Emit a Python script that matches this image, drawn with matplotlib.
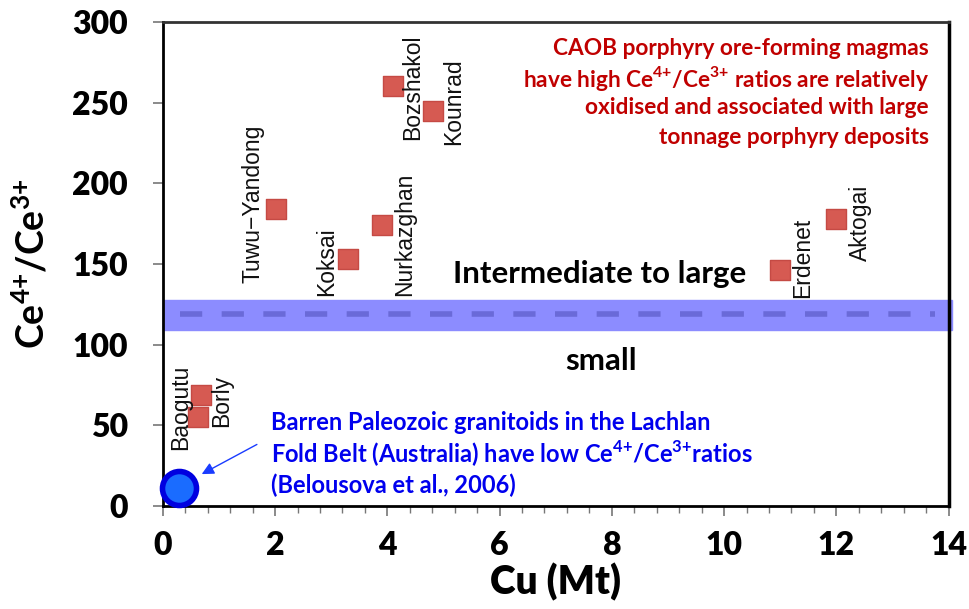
import matplotlib
matplotlib.use("Agg")
import matplotlib.pyplot as plt
from matplotlib.ticker import MultipleLocator

plt.rcParams['font.family'] = ['Lato', 'DejaVu Sans']
plt.rcParams['mathtext.fontset'] = 'custom'
plt.rcParams['mathtext.rm'] = 'Lato'
plt.rcParams['mathtext.bf'] = 'Lato:bold'

# porphyry deposits (Cu in Mt, Ce4+/Ce3+)
names = ['Baogutu', 'Borly', 'Tuwu\u2212Yandong', 'Koksai', 'Nurkazghan',
         'Bozshakol', 'Kounrad', 'Erdenet', 'Aktogai']
cu = [0.62, 0.68, 2.02, 3.3, 3.9, 4.1, 4.82, 11.0, 12.0]
ratio = [55, 69, 184, 153, 174, 260, 245, 146, 178]
# label anchor (bottom of rotated text)
lab_x = [0.31, 1.04, 1.6, 2.92, 4.3, 4.45, 5.18, 11.4, 12.43]
lab_y = [35, 49, 138, 130, 130, 227, 224, 129, 152]

# Lachlan Fold Belt barren granitoids
lfb_cu = [0.28]
lfb_ratio = [11]

threshold = 119
band = (109, 128)

fig = plt.figure(figsize=(9.69, 6.09), dpi=100)
ax = fig.add_axes([0.168, 0.169, 0.811, 0.795])
ax.set_xlim(0, 14)
ax.set_ylim(0, 300)

ax.axhspan(band[0], band[1], xmin=0, xmax=1.004, color='#8c8cff', zorder=1, clip_on=False)
ax.plot([0.3, 13.75], [threshold, threshold], color='#6a6ad8', lw=4, dashes=(4, 3.5), zorder=2)

ax.scatter(cu, ratio, marker='s', s=200, color='#d65a52', edgecolors='#c54a44', linewidths=1, zorder=4)
for n, x, y in zip(names, lab_x, lab_y):
    ax.text(x, y, n, rotation=90, ha='center', va='bottom', fontsize=16.5,
            family='Liberation Sans', color='#111111', zorder=5)

ax.scatter(lfb_cu, lfb_ratio, marker='o', s=600, color='#1a6cff', edgecolors='#0000e0', linewidths=4, zorder=5, clip_on=False)

ax.text(7.78, 144, 'Intermediate to large', ha='center', va='center', fontsize=22.5, fontweight='bold', zorder=5)
ax.text(7.8, 90, 'small', ha='center', va='center', fontsize=22.5, fontweight='bold', zorder=5)

red = ['CAOB porphyry ore-forming magmas',
       r'have high Ce$^{\mathbf{4{+}}}$/Ce$^{\mathbf{3{+}}}$ ratios are relatively',
       'oxidised and associated with large',
       'tonnage porphyry deposits']
for i, line in enumerate(red):
    ax.text(13.65, 283.5 - i * 18.3, line, ha='right', va='center', fontsize=16.3,
            fontweight='bold', color='#c00000', zorder=5)

blue = ['Barren Paleozoic granitoids in the Lachlan',
        r'Fold Belt (Australia) have low Ce$^{\mathbf{4{+}}}$/Ce$^{\mathbf{3{+}}}$ratios',
        '(Belousova et al., 2006)']
for i, line in enumerate(blue):
    ax.text(1.93, 51.5 - i * 19.2, line, ha='left', va='center', fontsize=17,
            fontweight='bold', color='#0000ee', zorder=5)

ax.annotate('', xy=(0.65, 19), xytext=(1.72, 39),
            arrowprops=dict(arrowstyle='-|>', color='#1a3cff', lw=1, mutation_scale=18), zorder=5)

ax.xaxis.set_major_locator(MultipleLocator(2))
ax.xaxis.set_minor_locator(MultipleLocator(0.4))
ax.yaxis.set_major_locator(MultipleLocator(50))
ax.tick_params(axis='both', which='major', labelsize=23, color='#777777', length=7, width=1.2)
ax.tick_params(axis='x', which='major', pad=11)
ax.tick_params(axis='y', which='major', pad=18)
ax.tick_params(axis='x', which='minor', color='#777777', length=5, width=1)
for lab in ax.get_xticklabels() + ax.get_yticklabels():
    lab.set_fontweight('heavy')

for s in ax.spines.values():
    s.set_linewidth(2)
    s.set_color('black')
ax.spines['top'].set_color('#333333')
ax.spines['right'].set_linewidth(2.5)

ax.set_xlabel('Cu (Mt)', fontsize=28, fontweight='heavy', labelpad=2)
ax.set_ylabel(r'$\mathbf{Ce^{4{+}}/Ce^{3{+}}}$', fontsize=27, labelpad=15)

fig.savefig('out.png', dpi=100)
